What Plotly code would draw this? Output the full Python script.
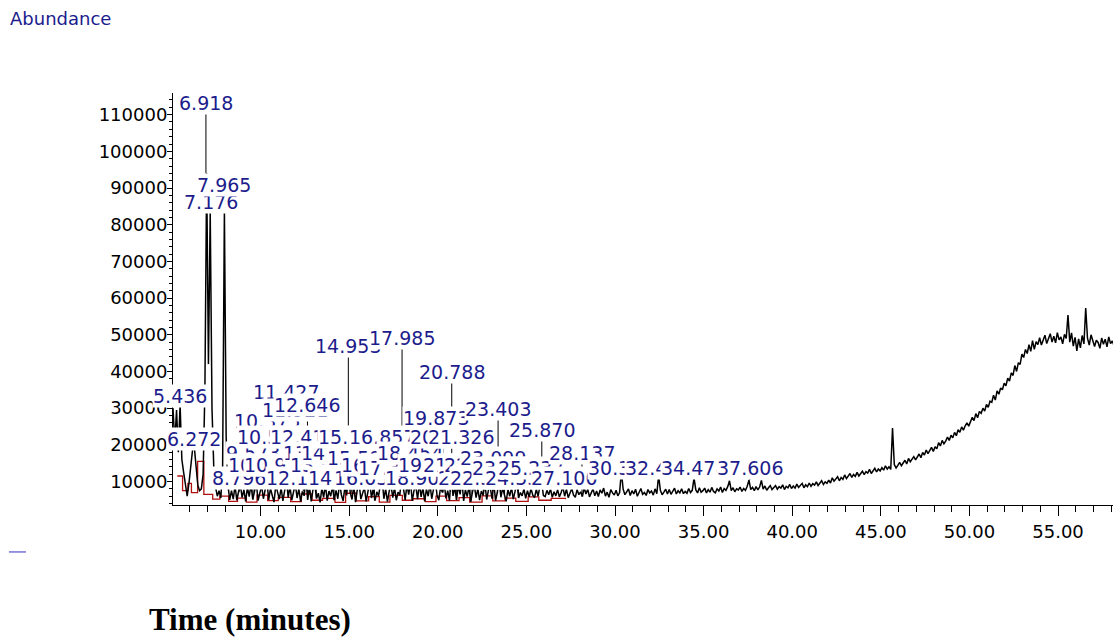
import plotly.graph_objects as go

# ---- total ion chromatogram, sampled every 0.1 min from 5.06 min (values in thousands) ----
start_min = 5.06
step_min = 0.1
abundance_k = [
    30.0, 20.5, 29.5, 18.0, 31.0, 16.0, 12.5, 9.0, 6.0, 9.5,      # 5
    14.0, 18.5, 19.5, 13.0, 9.0, 7.5, 8.0, 12.0, 35.0, 94.0,      # 6
    42.0, 83.5, 30.0, 14.0, 8.5, 6.0, 7.5, 5.5, 14.0, 84.0,       # 7
    22.0, 9.0, 5.0, 7.5, 5.2, 8.8, 4.9, 7.2, 9.1, 5.6,            # 8
    7.8, 4.6, 8.4, 5.9, 9.2, 5.1, 7.0, 9.6, 4.8, 6.9,             # 9
    8.9, 5.3, 7.7, 10.2, 5.0, 8.1, 6.2, 4.4, 9.0, 6.6,            # 10
    5.2, 8.3, 4.7, 7.5, 10.8, 5.6, 8.7, 4.9, 7.1, 9.4,            # 11
    5.5, 8.0, 4.5, 7.3, 6.1, 11.2, 5.0, 8.6, 4.6, 7.9,            # 12
    9.3, 5.4, 6.8, 4.3, 8.2, 5.7, 9.1, 4.8, 7.4, 6.0,             # 13
    8.8, 4.9, 7.6, 5.3, 9.7, 6.4, 4.7, 8.5, 6.2, 12.5,            # 14
    7.0, 5.1, 8.9, 4.4, 7.8, 9.5, 5.2, 6.9, 8.4, 4.6,             # 15
    7.7, 9.9, 5.5, 8.1, 4.8, 7.2, 6.0, 9.3, 10.4, 5.3,            # 16
    8.0, 4.5, 7.4, 9.0, 5.6, 8.3, 4.9, 7.1, 6.3, 12.0,            # 17
    8.2, 5.0, 9.1, 6.4, 10.0, 4.7, 7.6, 8.8, 5.2, 9.5,            # 18
    5.8, 8.4, 4.6, 7.9, 6.0, 9.2, 5.3, 8.1, 10.6, 6.2,            # 19
    4.9, 8.6, 7.0, 9.8, 5.4, 7.5, 4.8, 11.5, 6.1, 8.3,            # 20
    5.0, 9.0, 6.5, 10.3, 4.7, 7.8, 5.9, 8.7, 4.5, 7.2,            # 21
    9.1, 5.6, 8.0, 4.9, 7.4, 6.2, 9.4, 5.1, 7.7, 8.5,             # 22
    5.3, 9.6, 4.8, 7.0, 11.0, 5.7, 8.2, 6.4, 4.6, 7.8,            # 23
    6.0, 8.4, 5.2, 7.3, 9.9, 5.5, 7.0, 6.1, 8.0, 5.4,             # 24
    7.5, 5.8, 8.1, 6.3, 5.6, 7.9, 6.0, 8.6, 9.8, 6.2,             # 25
    5.9, 7.6, 6.4, 8.0, 5.7, 7.2, 6.1, 7.8, 5.8, 7.0,             # 26
    8.5, 6.0, 7.9, 5.6, 7.0, 8.1, 6.3, 5.7, 7.8, 6.4,             # 27
    7.2, 5.9, 8.3, 6.6, 7.9, 5.8, 6.9, 8.0, 6.1, 7.4,             # 28
    5.9, 7.7, 6.8, 8.2, 6.0, 7.1, 5.7, 7.8, 6.9, 6.3,             # 29
    7.6, 6.1, 7.0, 12.7, 7.9, 6.4, 7.2, 8.0, 6.2, 7.5,            # 30
    6.6, 7.9, 6.0, 7.3, 8.1, 6.5, 7.0, 6.2, 7.8, 6.9,             # 31
    7.4, 6.3, 8.0, 6.7, 11.6, 7.6, 6.4, 7.1, 7.9, 6.6,            # 32
    7.8, 6.5, 7.2, 8.2, 6.6, 7.5, 6.9, 8.0, 6.7, 7.3,             # 33
    6.8, 8.1, 7.0, 7.6, 10.9, 7.7, 6.9, 8.3, 7.1, 7.5,            # 34
    8.2, 6.9, 7.8, 7.1, 8.4, 7.3, 6.9, 8.0, 7.4, 8.5,             # 35
    7.0, 8.1, 7.6, 8.6, 10.2, 7.5, 8.3, 7.2, 8.0, 7.7,            # 36
    8.5, 7.3, 8.1, 7.6, 8.7, 10.4, 7.8, 8.4, 7.5, 8.6,            # 37
    7.7, 8.5, 10.3, 7.9, 8.8, 7.6, 8.3, 8.9, 7.8, 8.4,            # 38
    8.9, 7.9, 8.6, 8.2, 9.1, 7.8, 8.7, 8.3, 9.2, 8.1,             # 39
    8.8, 8.2, 9.3, 8.4, 8.9, 9.5, 8.3, 9.1, 8.6, 9.6,             # 40
    8.7, 9.4, 9.0, 9.9, 8.9, 9.6, 10.2, 9.2, 9.9, 9.5,            # 41
    10.4, 9.6, 11.0, 10.1, 10.7, 11.3, 10.2, 11.1, 10.6, 11.8,    # 42
    10.8, 11.6, 12.2, 11.1, 11.9, 11.4, 12.5, 11.5, 12.3, 12.8,   # 43
    11.9, 12.7, 12.3, 13.3, 12.2, 13.0, 13.6, 12.6, 13.4, 12.9,   # 44
    13.8, 13.1, 14.3, 13.4, 14.0, 13.3, 24.6, 14.6, 13.7, 14.4,   # 45
    15.2, 14.3, 15.0, 15.8, 14.8, 16.3, 15.4, 16.0, 16.8, 15.9,   # 46
    16.7, 17.5, 16.5, 17.9, 17.2, 18.6, 17.6, 18.3, 19.3, 18.2,   # 47
    19.5, 18.9, 20.6, 19.7, 21.2, 20.3, 21.0, 22.1, 21.2, 22.6,   # 48
    21.9, 23.4, 22.5, 24.1, 23.4, 24.9, 24.0, 25.2, 26.0, 25.1,   # 49
    26.3, 27.5, 26.6, 28.5, 27.4, 29.1, 28.6, 30.0, 29.2, 31.0,   # 50
    30.2, 31.9, 31.6, 33.5, 32.2, 34.7, 33.8, 35.5, 35.0, 36.8,   # 51
    36.1, 38.2, 37.4, 39.6, 38.9, 41.6, 40.0, 42.4, 41.9, 44.7,   # 52
    43.8, 46.0, 44.9, 47.3, 45.5, 48.4, 46.0, 48.1, 47.3, 49.2,   # 53
    47.2, 48.5, 49.9, 47.6, 49.2, 50.3, 48.0, 49.6, 47.8, 50.6,   # 54
    48.6, 49.4, 47.5, 50.1, 49.0, 55.4, 48.0, 50.5, 46.9, 49.3,   # 55
    45.6, 48.9, 46.4, 49.8, 47.5, 57.3, 49.1, 47.2, 50.0, 48.1,   # 56
    46.8, 48.5, 47.9, 46.3, 49.1, 47.4, 48.8, 46.7, 49.4, 47.6,   # 57
    48.3, 47.0,                                                   # 58
]

# ---- integration baseline (red, stepped) ----
baseline_times = [5.30, 5.60, 5.90, 6.10, 6.45, 6.80, 7.30, 7.70, 8.20, 8.70,
                  9.20, 9.80, 10.40, 11.00, 11.70, 12.30, 12.90, 13.50, 14.20, 14.80,
                  15.40, 16.10, 16.70, 17.30, 18.00, 18.60, 19.30, 19.90, 20.50, 21.20,
                  21.80, 22.50, 23.10, 23.80, 24.40, 25.10, 25.70, 26.40, 27.20]
baseline_k = [11.5, 7.5, 9.5, 7.0, 15.5, 6.5, 5.2, 6.0, 4.6, 5.5,
              4.4, 6.3, 4.8, 5.7, 4.5, 6.6, 4.9, 5.4, 4.3, 6.8,
              4.7, 5.9, 4.4, 6.2, 4.9, 5.3, 4.5, 6.0, 4.8, 5.6,
              4.4, 6.1, 4.7, 5.5, 4.6, 5.8, 4.9, 5.4, 5.2]

# ---- peak retention-time labels and the height at which each label is set ----
peak_labels = ["5.436", "6.272", "6.918", "7.176", "7.965", "8.796", "9.573", "10.044",
               "10.375", "10.547", "10.913", "11.427", "11.921", "12.145", "12.411", "12.646",
               "13.142", "13.518", "14.146", "14.512", "14.953", "15.120", "15.584", "16.031",
               "16.425", "16.857", "17.366", "17.985", "18.454", "18.902", "19.611", "19.873",
               "20.295", "20.788", "21.048", "21.326", "21.876", "22.230", "22.566", "23.099",
               "23.403", "23.768", "24.551", "25.237", "25.870", "27.100", "28.137", "30.332",
               "32.436", "34.478", "37.606"]
label_heights = [33300, 21600, 113100, 86200, 90800, 11000, 17800, 14500,
                 26500, 22100, 14500, 34400, 29500, 11000, 22100, 30800,
                 17800, 14500, 17800, 11000, 46900, 22100, 16400, 11000,
                 14500, 22100, 13700, 49100, 17800, 11000, 14500, 27300,
                 22100, 39800, 14500, 22100, 11000, 14500, 11000, 16400,
                 29700, 13700, 11000, 13700, 24000, 11000, 17800, 13700,
                 13700, 13700, 13700]

times = [round(start_min + step_min * i, 2) for i in range(len(abundance_k))]
abundance = [v * 1000 for v in abundance_k]
baseline = [v * 1000 for v in baseline_k]
peak_times = [float(s) for s in peak_labels]

NAVY = "#1c1c8c"
FONT = "DejaVu Sans"

fig = go.Figure()

fig.add_trace(go.Scatter(x=baseline_times, y=baseline, mode="lines",
                         line=dict(color="#b01010", width=1.3, shape="hv"),
                         hoverinfo="skip"))
fig.add_trace(go.Scatter(x=times, y=abundance, mode="lines",
                         line=dict(color="black", width=1.5),
                         hoverinfo="skip"))

# leader lines from each peak apex up to its label
lead_x, lead_y = [], []
for t, h in zip(peak_times, label_heights):
    apex = max(a for tt, a in zip(times, abundance) if abs(tt - t) <= 0.06)
    lead_x += [t, t, None]
    lead_y += [apex, max(apex, h), None]
fig.add_trace(go.Scatter(x=lead_x, y=lead_y, mode="lines",
                         line=dict(color="black", width=1), hoverinfo="skip"))

annotations = []
for t, h, s in zip(peak_times, label_heights, peak_labels):
    annotations.append(dict(x=t, y=h, xref="x", yref="y", text=s, showarrow=False,
                            xanchor="center", yanchor="middle", bgcolor="white",
                            borderpad=0, font=dict(family=FONT, size=19, color=NAVY)))

annotations.append(dict(x=-0.1755, y=1.182, xref="paper", yref="paper", text="Abundance",
                        showarrow=False, xanchor="left", yanchor="middle",
                        font=dict(family=FONT, size=18, color=NAVY)))
annotations.append(dict(x=0.0819, y=-0.279, xref="paper", yref="paper",
                        text="<b>Time (minutes)</b>", showarrow=False,
                        xanchor="center", yanchor="middle",
                        font=dict(family="Liberation Serif", size=31, color="black")))

fig.update_layout(
    width=1113, height=637,
    margin=dict(l=173, r=0, t=93, b=132),
    paper_bgcolor="white", plot_bgcolor="white",
    showlegend=False,
    annotations=annotations,
    shapes=[dict(type="line", xref="paper", yref="paper", x0=-0.1745, x1=-0.1564,
                 y0=-0.114, y1=-0.114, line=dict(color="#3030c0", width=1))],
    xaxis=dict(range=[5.06, 58.1], tick0=0, dtick=5, tickformat=".2f",
               showgrid=False, zeroline=False, showline=True, linecolor="black", linewidth=1,
               ticks="outside", ticklen=10, tickcolor="black", tickwidth=1,
               minor=dict(dtick=1, ticklen=6, ticks="outside", tickcolor="black", showgrid=False),
               tickfont=dict(family=FONT, size=18, color="black")),
    yaxis=dict(range=[3600, 115900], tick0=0, dtick=10000, tickformat="d",
               showgrid=False, zeroline=False, showline=True, linecolor="black", linewidth=1,
               ticks="outside", ticklen=5, tickcolor="black", tickwidth=1,
               ticklabelstandoff=-4,
               minor=dict(dtick=2000, ticklen=3, ticks="outside", tickcolor="black", showgrid=False),
               tickfont=dict(family=FONT, size=18, color="black")),
)

fig.write_html("out.html")
